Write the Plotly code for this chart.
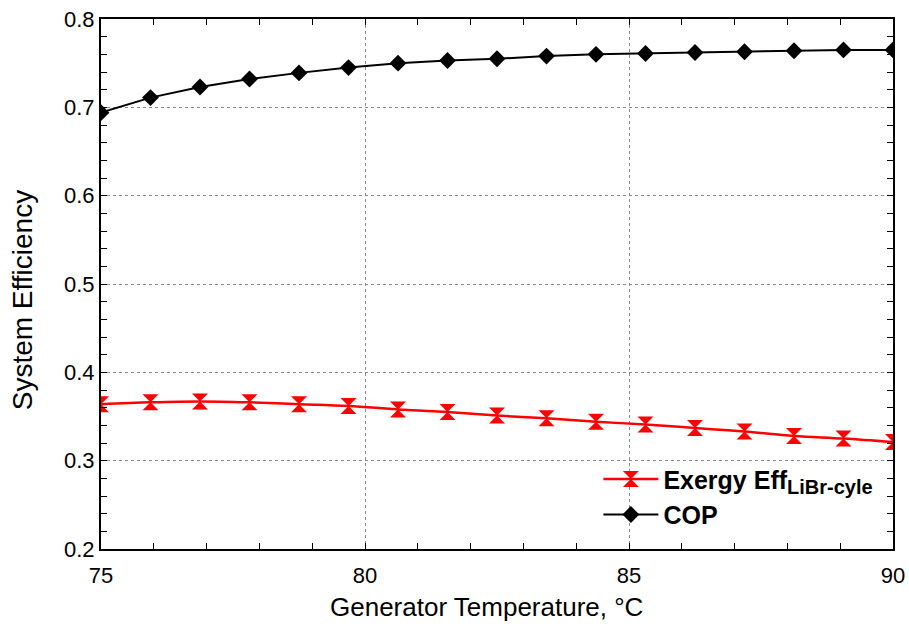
import plotly.graph_objects as go

# Generator temperature sweep (°C)
gen_temp = [75.0, 75.9375, 76.875, 77.8125, 78.75, 79.6875, 80.625, 81.5625, 82.5,
            83.4375, 84.375, 85.3125, 86.25, 87.1875, 88.125, 89.0625, 90.0]

# Coefficient of performance
cop = [0.694, 0.711, 0.723, 0.732, 0.739, 0.745, 0.750, 0.753, 0.755,
       0.758, 0.760, 0.761, 0.762, 0.763, 0.764, 0.765, 0.765]

# Exergy efficiency of the LiBr cycle
exergy_eff = [0.364, 0.366, 0.367, 0.366, 0.364, 0.362, 0.358, 0.355, 0.351,
              0.348, 0.344, 0.341, 0.337, 0.333, 0.328, 0.325, 0.321]

FONT = "Liberation Sans, Arial, sans-serif"
X_RANGE = [75, 90]
Y_RANGE = [0.2, 0.8]

fig = go.Figure()
fig.add_trace(go.Scatter(
    x=gen_temp, y=exergy_eff, mode="lines+markers",
    name='Exergy Eff<sub><span style="font-size:20px">LiBr-cyle</span></sub>',
    line=dict(color="#ff0000", width=2.5, shape="spline"),
    marker=dict(symbol="hourglass", size=16, color="#ff0000"),
))
fig.add_trace(go.Scatter(
    x=gen_temp, y=cop, mode="lines+markers", name="COP",
    line=dict(color="#000000", width=2),
    marker=dict(symbol="diamond", size=13, color="#000000"),
))

axis_common = dict(
    showline=True, linecolor="black", linewidth=2,
    ticks="inside", ticklen=6, tickwidth=1, tickcolor="black",
    showgrid=True, gridcolor="#8a8a8a", griddash="dot", gridwidth=1,
    zeroline=False, automargin=False,
    tickfont=dict(family=FONT, size=22, color="black"),
)

fig.update_layout(
    xaxis=dict(
        range=X_RANGE, dtick=5, tick0=75, ticklabelstandoff=6,
        minor=dict(dtick=1, ticks="inside", ticklen=6, tickcolor="black", showgrid=False),
        **axis_common,
    ),
    yaxis=dict(
        range=Y_RANGE, dtick=0.1, tick0=0.2, tickformat=".1f",
        minor=dict(dtick=0.02, ticks="inside", ticklen=6, tickcolor="black", showgrid=False),
        **axis_common,
    ),
    # frame edges on top and right carrying the same inside ticks
    xaxis2=dict(
        overlaying="x", side="top", range=X_RANGE, dtick=5, tick0=75,
        showline=True, linecolor="black", linewidth=2,
        ticks="inside", ticklen=6, tickcolor="black", showticklabels=False,
        minor=dict(dtick=1, ticks="inside", ticklen=6, tickcolor="black", showgrid=False),
        showgrid=False, zeroline=False, automargin=False,
    ),
    yaxis2=dict(
        overlaying="y", side="right", range=Y_RANGE, dtick=0.1, tick0=0.2,
        showline=True, linecolor="black", linewidth=2,
        ticks="inside", ticklen=6, tickcolor="black", showticklabels=False,
        minor=dict(dtick=0.02, ticks="inside", ticklen=6, tickcolor="black", showgrid=False),
        showgrid=False, zeroline=False, automargin=False,
    ),
    width=909, height=624,
    margin=dict(l=101, r=16, t=19, b=75),
    paper_bgcolor="white", plot_bgcolor="white",
    showlegend=True,
    legend=dict(
        x=0.628, y=0.175, xanchor="left", yanchor="top",
        bgcolor="rgba(255,255,255,0)", borderwidth=0,
        font=dict(family=FONT, size=25, color="black", weight="bold"),
        itemwidth=55, tracegroupgap=0,
    ),
    font=dict(family=FONT),
    annotations=[
        dict(text="Generator Temperature, °C", xref="paper", yref="paper",
             x=0.487, y=-0.109, xanchor="center", yanchor="middle", showarrow=False,
             font=dict(family=FONT, size=26, color="black")),
        dict(text="System Efficiency", xref="paper", yref="paper", textangle=-90,
             x=-0.098, y=0.47, xanchor="center", yanchor="middle", showarrow=False,
             font=dict(family=FONT, size=28, color="black")),
    ],
)

# empty trace so the top/right frame axes are laid out
fig.add_trace(go.Scatter(x=[None], y=[None], xaxis="x2", yaxis="y2",
                         showlegend=False, hoverinfo="skip"))

fig.write_html("out.html")
